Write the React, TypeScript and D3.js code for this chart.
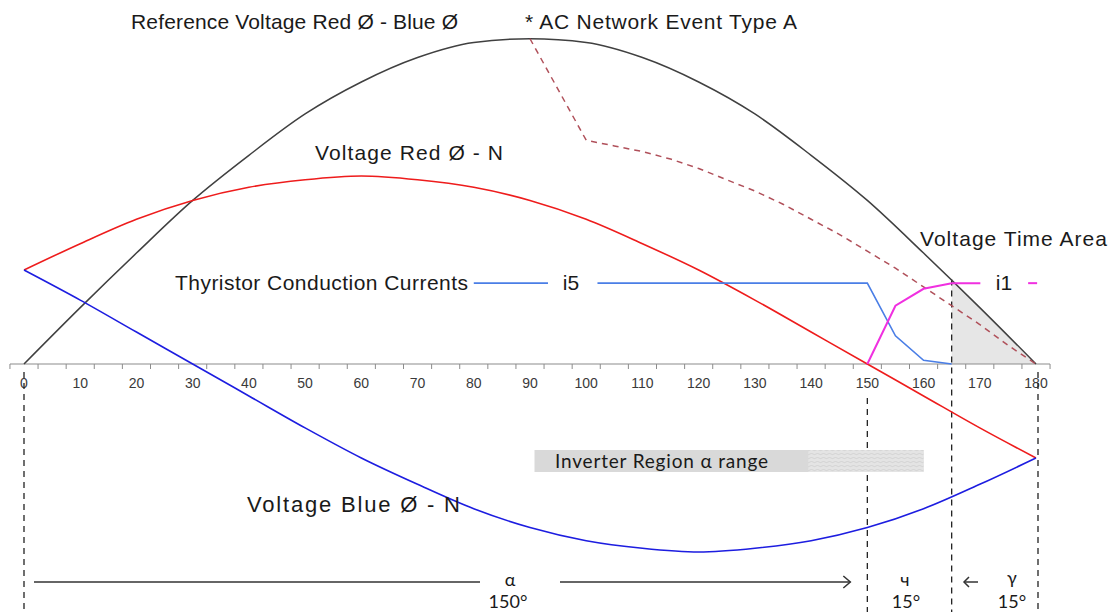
import React from "react";
import * as d3 from "d3";

// ---- data ----
const degrees = [0, 10, 20, 30, 40, 50, 60, 70, 80, 90, 100, 110, 120, 130, 140, 150, 160, 170, 180];
const refVoltage = [0, 0.3, 0.59, 0.87, 1.11, 1.33, 1.5, 1.63, 1.71, 1.73, 1.71, 1.63, 1.5, 1.33, 1.11, 0.87, 0.59, 0.3, 0];
const redVoltage = [0.5, 0.64, 0.77, 0.87, 0.94, 0.98, 1.0, 0.98, 0.94, 0.87, 0.77, 0.64, 0.5, 0.34, 0.17, 0, -0.17, -0.34, -0.5];
const blueVoltage = [0.5, 0.34, 0.17, 0, -0.17, -0.34, -0.5, -0.64, -0.77, -0.87, -0.94, -0.98, -1.0, -0.98, -0.94, -0.87, -0.77, -0.64, -0.5];

const eventDegrees = [90, 100, 105, 110, 115, 120, 125, 130, 135, 140, 145, 150, 155, 160, 165, 170, 175, 180];
const eventVoltage = [1.73, 1.19, 1.16, 1.13, 1.09, 1.04, 0.98, 0.92, 0.85, 0.77, 0.69, 0.6, 0.51, 0.41, 0.31, 0.21, 0.1, 0];

const i5Degrees = [102, 150, 155, 160, 165];
const i5Current = [0.43, 0.43, 0.15, 0.02, 0];
const i5LegendStub = [80, 93.2];
const i1Degrees = [150, 155, 160, 165, 170.1];
const i1Current = [0, 0.31, 0.4, 0.43, 0.43];
const i1LegendStub = [178.6, 180.2];

const areaDegrees = [165, 180];
const areaVoltage = [0.45, 0];

const tickLabels = [0, 10, 20, 30, 40, 50, 60, 70, 80, 90, 100, 110, 120, 130, 140, 150, 160, 170, 180];
const tickMarks = d3.range(-2.5, 183, 5);

const inverterRange = [90.8, 160];
const inverterHatchFrom = 139.5;
const markerDegrees = [0, 150, 165, 180];

const W = 1111;
const H = 614;

export default function App() {
  const x = d3.scaleLinear().domain([0, 180]).range([24, 1036]);
  const y = d3.scaleLinear().domain([0, 1]).range([364, 176]);

  const smooth = d3
    .line<[number, number]>()
    .x((d) => x(d[0]))
    .y((d) => y(d[1]))
    .curve(d3.curveMonotoneX);
  const straight = d3
    .line<[number, number]>()
    .x((d) => x(d[0]))
    .y((d) => y(d[1]));
  const zip = (a: number[], b: number[]) => a.map((v, i) => [v, b[i]] as [number, number]);

  const area = d3
    .area<[number, number]>()
    .x((d) => x(d[0]))
    .y0(y(0))
    .y1((d) => y(d[1]));

  const arial = "'Liberation Sans', Arial, sans-serif";
  const calibri = "Lato, 'Open Sans', sans-serif";
  const textCol = "#1a1a1a";
  const y0 = y(0);
  const current = 0.43;

  return (
    <svg width={W} height={H} style={{ position: "absolute", left: 0, top: 0, background: "#fff" }}>
      <defs>
        <pattern id="wave" width="6" height="4" patternUnits="userSpaceOnUse">
          <rect width="6" height="4" fill="#e4e4e4" />
          <path d="M0 2 Q1.5 0.8 3 2 T6 2" fill="none" stroke="#c8c8c8" strokeWidth="0.6" />
        </pattern>
      </defs>

      {/* voltage time area */}
      <path d={area(zip(areaDegrees, areaVoltage)) || ""} fill="#e6e6e6" />

      {/* axis */}
      <line x1={x(-2.5)} x2={x(182.5)} y1={y0} y2={y0} stroke="#8c8c8c" strokeWidth={1.2} />
      {tickMarks.map((t) => (
        <line key={t} x1={x(t)} x2={x(t)} y1={y0} y2={y0 + 5} stroke="#8c8c8c" strokeWidth={1} />
      ))}
      {tickLabels.map((t) => (
        <text key={t} x={x(t)} y={388} textAnchor="middle" fontFamily={arial} fontSize={14} fill="#3a3a3a">
          {t}
        </text>
      ))}

      {/* vertical dashed markers */}
      <line x1={x(markerDegrees[0])} x2={x(markerDegrees[0])} y1={372} y2={612} stroke="#222" strokeWidth={1.3} strokeDasharray="6,5" />
      <line x1={x(markerDegrees[1])} x2={x(markerDegrees[1])} y1={398} y2={612} stroke="#222" strokeWidth={1.3} strokeDasharray="6,5" />
      <line x1={x(markerDegrees[2])} x2={x(markerDegrees[2])} y1={y(areaVoltage[0])} y2={612} stroke="#222" strokeWidth={1.3} strokeDasharray="6,5" />
      <line x1={x(markerDegrees[3]) + 2} x2={x(markerDegrees[3]) + 2} y1={372} y2={612} stroke="#222" strokeWidth={1.3} strokeDasharray="6,5" />

      {/* inverter region bar */}
      <rect x={x(inverterRange[0])} y={450} width={x(inverterRange[1]) - x(inverterRange[0])} height={22} fill="#d9d9d9" />
      <rect x={x(inverterHatchFrom)} y={450} width={x(inverterRange[1]) - x(inverterHatchFrom)} height={22} fill="url(#wave)" />
      <text x={555} y={468} fontFamily={calibri} fontSize={19} fill={textCol} textLength={213} lengthAdjust="spacing">
        Inverter Region α range
      </text>

      {/* curves */}
      <path d={smooth(zip(degrees, refVoltage)) || ""} fill="none" stroke="#404040" strokeWidth={1.5} />
      <path d={straight(zip(eventDegrees, eventVoltage)) || ""} fill="none" stroke="#b0505a" strokeWidth={1.5} strokeDasharray="6,5" />
      <path d={smooth(zip(degrees, redVoltage)) || ""} fill="none" stroke="#ee1c1c" strokeWidth={1.6} />
      <path d={smooth(zip(degrees, blueVoltage)) || ""} fill="none" stroke="#1d1de0" strokeWidth={1.6} />

      {/* currents */}
      <path d={straight(zip(i5Degrees, i5Current)) || ""} fill="none" stroke="#4a7ee6" strokeWidth={1.6} />
      <line x1={x(i5LegendStub[0])} x2={x(i5LegendStub[1])} y1={y(current)} y2={y(current)} stroke="#4a7ee6" strokeWidth={1.6} />
      <path d={straight(zip(i1Degrees, i1Current)) || ""} fill="none" stroke="#f030e0" strokeWidth={2} />
      <line x1={x(i1LegendStub[0])} x2={x(i1LegendStub[1])} y1={y(current)} y2={y(current)} stroke="#f030e0" strokeWidth={2} />

      {/* annotations */}
      <text x={131} y={29} fontFamily={arial} fontSize={21} fill={textCol} textLength={327} lengthAdjust="spacing">
        Reference Voltage Red Ø - Blue Ø
      </text>
      <text x={525} y={29} fontFamily={arial} fontSize={21} fill={textCol} textLength={272} lengthAdjust="spacing">
        * AC Network Event Type A
      </text>
      <text x={315} y={160} fontFamily={arial} fontSize={21} fill={textCol} textLength={188} lengthAdjust="spacing">
        Voltage Red Ø - N
      </text>
      <text x={920} y={246} fontFamily={arial} fontSize={21} fill={textCol} textLength={187} lengthAdjust="spacing">
        Voltage Time Area
      </text>
      <text x={175} y={290} fontFamily={arial} fontSize={21} fill={textCol} textLength={293} lengthAdjust="spacing">
        Thyristor Conduction Currents
      </text>
      <text x={571} y={290} textAnchor="middle" fontFamily={arial} fontSize={21} fill={textCol}>
        i5
      </text>
      <text x={1004} y={290} textAnchor="middle" fontFamily={arial} fontSize={21} fill={textCol}>
        i1
      </text>
      <text x={247} y={512} fontFamily={arial} fontSize={22} fill={textCol} textLength={213} lengthAdjust="spacing">
        Voltage Blue Ø - N
      </text>

      {/* bottom arrows */}
      <line x1={x(0) + 10} x2={480} y1={582} y2={582} stroke="#333" strokeWidth={1.5} />
      <line x1={560} x2={x(150) - 17} y1={582} y2={582} stroke="#333" strokeWidth={1.5} />
      <path d={`M${x(150) - 24},576 L${x(150) - 17},582 L${x(150) - 24},588`} fill="none" stroke="#333" strokeWidth={1.5} />
      <text x={510} y={586} textAnchor="middle" fontFamily={calibri} fontSize={18} fill={textCol}>α</text>
      <text x={508} y={608} textAnchor="middle" fontFamily={calibri} fontSize={18} fill={textCol}>150°</text>

      <text x={905} y={586} textAnchor="middle" fontFamily={calibri} fontSize={18} fill={textCol}>ч</text>
      <text x={906} y={608} textAnchor="middle" fontFamily={calibri} fontSize={18} fill={textCol}>15°</text>

      <line x1={964} x2={978} y1={582} y2={582} stroke="#333" strokeWidth={1.5} />
      <path d="M969,577 L964,582 L969,587" fill="none" stroke="#333" strokeWidth={1.5} />
      <text x={1012} y={584} textAnchor="middle" fontFamily={calibri} fontSize={18} fill={textCol}>γ</text>
      <text x={1012} y={608} textAnchor="middle" fontFamily={calibri} fontSize={18} fill={textCol}>15°</text>
    </svg>
  );
}
